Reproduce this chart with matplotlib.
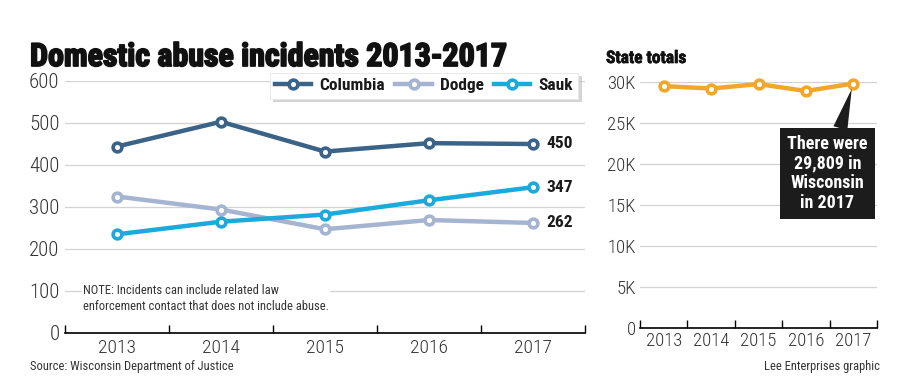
import matplotlib
matplotlib.use("Agg")
import matplotlib.pyplot as plt
import matplotlib.patheffects as pe
from matplotlib import font_manager as fm

# ---------------- data ----------------
years = ["2013", "2014", "2015", "2016", "2017"]
columbia = [444, 503, 432, 452, 450]
dodge = [325, 294, 247, 269, 262]
sauk = [235, 265, 282, 316, 347]
state_totals = [29500, 29200, 29750, 28900, 29809]
left_yticks = [0, 100, 200, 300, 400, 500, 600]
right_yticks = [0, 5000, 10000, 15000, 20000, 25000, 30000]
right_ylabels = ["0", "5K", "10K", "15K", "20K", "25K", "30K"]

# ---------------- fonts ----------------
names = {f.name for f in fm.fontManager.ttflist}
cond = None
for cand in ["Roboto Condensed", "Liberation Sans Narrow", "DejaVu Sans Condensed",
             "Open Sans Condensed", "Roboto"]:
    if cand in names:
        cond = cand
        break
if cond is None:
    cond = "DejaVu Sans"
plt.rcParams["font.family"] = [cond, "DejaVu Sans"]

C_COL = "#3b6287"
C_DOD = "#a5b4d1"
C_SAUK = "#1aaadb"
C_ORANGE = "#f2a72b"
C_GRID = "#d3d3d3"
C_TXT = "#333333"

W, H = 905, 390
fig = plt.figure(figsize=(W / 100, H / 100), dpi=100)
fig.patch.set_facecolor("white")


def fx(px):
    return px / W


def fy(py):
    return (H - py) / H


x = list(range(len(years)))
MS, MEW, LW = 6.3, 2.6, 3.2

# ---------------- left chart ----------------
axL = fig.add_axes([fx(65), fy(333), fx(585) - fx(65), fy(81) - fy(333)])
axL.set_xlim(-0.5, len(years) - 0.5)
axL.set_ylim(0, 600)

series = [("Columbia", columbia, C_COL), ("Dodge", dodge, C_DOD), ("Sauk", sauk, C_SAUK)]
for name, vals, col in series:
    axL.plot(x, vals, color=col, lw=LW, marker="o", ms=MS, mfc="white",
             mec=col, mew=MEW, label=name, clip_on=False, zorder=3)

axL.set_yticks(left_yticks)
axL.set_yticklabels([str(v) for v in left_yticks], fontsize=15, color=C_TXT,
                    fontweight="light")
axL.tick_params(axis="y", length=0, pad=4)
axL.set_xticks(x)
axL.set_xticklabels(years, fontsize=14, color=C_TXT, fontweight="light")
axL.set_xticks([i - 0.5 for i in range(len(years) + 1)], minor=True)
axL.tick_params(axis="x", which="major", length=0, pad=4)
axL.tick_params(axis="x", which="minor", direction="in", length=6, width=1, color="black")
axL.grid(axis="y", color=C_GRID, lw=0.9)
axL.set_axisbelow(True)
for s in ["left", "right", "top"]:
    axL.spines[s].set_visible(False)
axL.spines["bottom"].set_color("black")
axL.spines["bottom"].set_linewidth(1.2)

# end value labels
for name, vals, col in series:
    axL.annotate(str(vals[-1]), xy=(x[-1], vals[-1]), xytext=(13, 0),
                 textcoords="offset pixels", ha="left", va="center",
                 fontsize=12.5, fontweight="bold", color="#1a1a1a")

leg = axL.legend(loc="upper right", bbox_to_anchor=(fx(578), fy(73)),
                 bbox_transform=fig.transFigure, ncol=3, frameon=True,
                 fancybox=False, shadow={"color": "#bbbbbb", "alpha": 0.6},
                 handlelength=2.1, handletextpad=0.45,
                 columnspacing=0.6, borderpad=0.3, borderaxespad=0,
                 prop={"family": [cond, "DejaVu Sans"], "weight": "bold", "size": 12.5})
leg.get_frame().set_edgecolor("#e6e6e6")
leg.get_frame().set_linewidth(0.6)
for t in leg.get_texts():
    t.set_color("#1a1a1a")

axL.text(fx(83), fy(298),
         "NOTE: Incidents can include related law\nenforcement contact that does not include abuse.",
         transform=fig.transFigure, fontsize=9, color=C_TXT, ha="left", va="center",
         linespacing=1.3,
         bbox=dict(boxstyle="square,pad=0.1", fc="white", ec="none"))

# ---------------- right chart ----------------
axR = fig.add_axes([fx(640), fy(328), fx(877) - fx(640), fy(82) - fy(328)])
axR.set_xlim(-0.5, len(years) - 0.5)
axR.set_ylim(0, 30000)
axR.plot(x, state_totals, color=C_ORANGE, lw=LW, marker="o", ms=MS, mfc="white",
         mec=C_ORANGE, mew=MEW, clip_on=False, zorder=3)
axR.set_yticks(right_yticks)
axR.set_yticklabels(right_ylabels, fontsize=13.5, color=C_TXT, fontweight="light")
axR.tick_params(axis="y", length=0, pad=3)
axR.set_xticks(x)
axR.set_xticklabels(years, fontsize=13.5, color=C_TXT, fontweight="light")
axR.set_xticks([i - 0.5 for i in range(len(years) + 1)], minor=True)
axR.tick_params(axis="x", which="major", length=0, pad=3)
axR.tick_params(axis="x", which="minor", direction="in", length=6, width=1, color="black")
axR.grid(axis="y", color=C_GRID, lw=0.9)
axR.set_axisbelow(True)
for s in ["left", "right", "top"]:
    axR.spines[s].set_visible(False)
axR.spines["bottom"].set_color("black")
axR.spines["bottom"].set_linewidth(1.2)

axR.annotate("There were\n29,809 in\nWisconsin\nin 2017",
             xy=(x[-1], state_totals[-1]), xytext=(-26, -90),
             textcoords="offset pixels", ha="center", va="center",
             fontsize=13, fontweight="bold", color="white", linespacing=1.1,
             bbox=dict(boxstyle="square,pad=0.4", fc="#1c1c1c", ec="none"),
             arrowprops=dict(arrowstyle="wedge,tail_width=0.8,shrink_factor=0.5",
                             fc="#1c1c1c", ec="none", shrinkA=0, shrinkB=4),
             zorder=5)

# ---------------- texts ----------------
fig.text(fx(30), fy(66), "Domestic abuse incidents 2013-2017", fontsize=23,
         fontweight="bold", color="#111111", ha="left", va="baseline",
         path_effects=[pe.withStroke(linewidth=1.3, foreground="#111111")])
fig.text(fx(606), fy(63), "State totals", fontsize=12.5, fontweight="bold",
         color="#111111", ha="left", va="baseline",
         path_effects=[pe.withStroke(linewidth=0.5, foreground="#111111")])
fig.text(fx(30), fy(370), "Source: Wisconsin Department of Justice", fontsize=9,
         color=C_TXT, ha="left", va="baseline")
fig.text(fx(880), fy(370), "Lee Enterprises graphic", fontsize=9,
         color=C_TXT, ha="right", va="baseline")

fig.savefig("out.png", dpi=100, facecolor="white")
